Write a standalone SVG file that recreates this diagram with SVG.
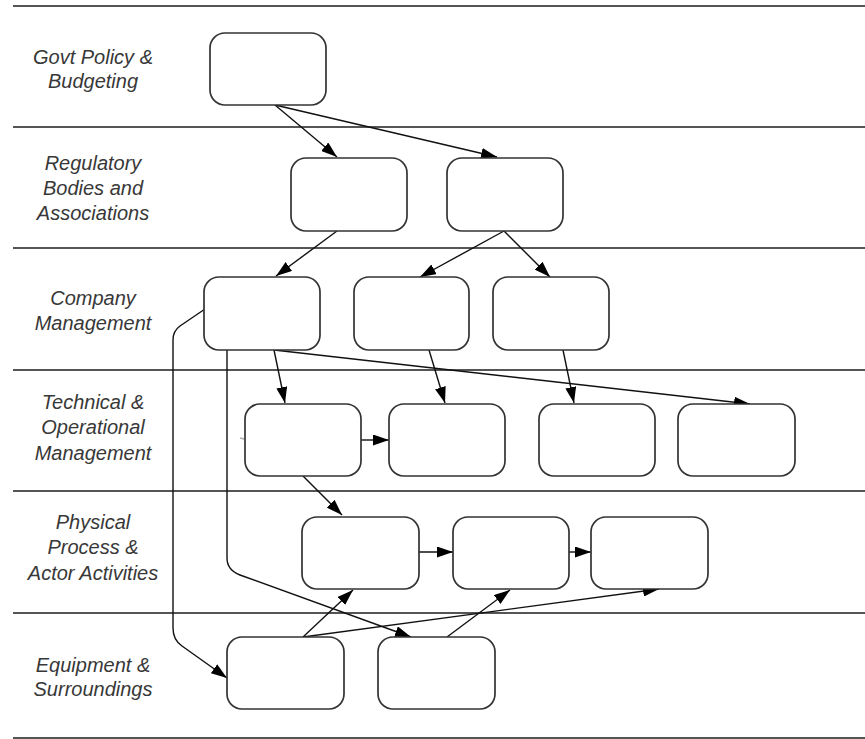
<svg xmlns="http://www.w3.org/2000/svg" width="865" height="739" viewBox="0 0 865 739">
  <style>
    .lane { stroke: #555; stroke-width: 2; }
    .node { fill: #fff; stroke: #333; stroke-width: 1.7; }
    .edge { fill: none; stroke: #111; stroke-width: 1.4; marker-end: url(#arrow); }
    .label { font-family: "Liberation Sans", Arial, sans-serif; font-style: italic; font-size: 20px; fill: #383838; text-anchor: middle; }
  </style>
  <defs>
    <marker id="arrow" viewBox="0 0 16 11" refX="16" refY="5.5" markerWidth="16" markerHeight="11" markerUnits="userSpaceOnUse" orient="auto">
      <path d="M0,0 L16,5.5 L0,11 z" fill="#000"/>
    </marker>
  </defs>
  <rect width="865" height="739" fill="#fff"/>

  <!-- swimlane separators -->
  <g id="lanes">
    <line class="lane" x1="13" y1="6" x2="865" y2="6"/>
    <line class="lane" x1="13" y1="127" x2="865" y2="127"/>
    <line class="lane" x1="13" y1="248" x2="865" y2="248"/>
    <line class="lane" x1="13" y1="370" x2="865" y2="370"/>
    <line class="lane" x1="13" y1="491" x2="865" y2="491"/>
    <line class="lane" x1="13" y1="613" x2="865" y2="613"/>
    <line class="lane" x1="13" y1="738" x2="865" y2="738"/>
  </g>

  <!-- lane titles -->
  <g id="lane-labels" class="label">
    <text class="label" x="93" y="64">Govt Policy &amp;</text>
    <text class="label" x="93" y="88">Budgeting</text>
    <text class="label" x="93" y="170">Regulatory</text>
    <text class="label" x="93" y="195">Bodies and</text>
    <text class="label" x="93" y="220">Associations</text>
    <text class="label" x="93" y="305">Company</text>
    <text class="label" x="93" y="330">Management</text>
    <text class="label" x="93" y="409">Technical &amp;</text>
    <text class="label" x="93" y="434">Operational</text>
    <text class="label" x="93" y="460">Management</text>
    <text class="label" x="93" y="529">Physical</text>
    <text class="label" x="93" y="554">Process &amp;</text>
    <text class="label" x="93" y="580">Actor Activities</text>
    <text class="label" x="93" y="672">Equipment &amp;</text>
    <text class="label" x="93" y="696">Surroundings</text>
  </g>

  <!-- connectors -->
  <g id="connectors">
    <line class="edge" x1="275" y1="105" x2="337" y2="157"/>
    <line class="edge" x1="275" y1="105" x2="497" y2="157"/>
    <line class="edge" x1="337" y1="231" x2="276" y2="276"/>
    <line class="edge" x1="504" y1="231" x2="420" y2="277"/>
    <line class="edge" x1="504" y1="231" x2="550" y2="277"/>
    <line class="edge" x1="274" y1="350" x2="285" y2="403"/>
    <line class="edge" x1="429" y1="350" x2="445" y2="403"/>
    <line class="edge" x1="563" y1="350" x2="574" y2="403"/>
    <line class="edge" x1="274" y1="350" x2="750" y2="404"/>
    <line class="edge" x1="361" y1="440" x2="389" y2="440"/>
    <line class="edge" x1="303" y1="476" x2="342" y2="515"/>
    <line class="edge" x1="418" y1="552" x2="453" y2="552"/>
    <line class="edge" x1="569" y1="552" x2="591" y2="552"/>
    <path class="edge" d="M205,309 L180,326 Q173,331 173,340 L173,628 Q173,640 182,646 L227,678"/>
    <path class="edge" d="M227,350 L227,558 Q227,570 240,575 L411,637"/>
    <line class="edge" x1="303" y1="637" x2="353" y2="590"/>
    <line class="edge" x1="303" y1="637" x2="659" y2="589"/>
    <line class="edge" x1="447" y1="637" x2="510" y2="590"/>
    <line x1="240" y1="438" x2="244" y2="439" stroke="#aaa" stroke-width="1.5"/>
  </g>

  <!-- nodes -->
  <g id="govt-1"><rect class="node" x="210" y="33" width="116" height="72" rx="15"/></g>
  <g id="reg-1"><rect class="node" x="291" y="158" width="116" height="73" rx="15"/></g>
  <g id="reg-2"><rect class="node" x="447" y="158" width="116" height="73" rx="15"/></g>
  <g id="company-1"><rect class="node" x="204" y="277" width="116" height="73" rx="15"/></g>
  <g id="company-2"><rect class="node" x="354" y="277" width="115" height="73" rx="15"/></g>
  <g id="company-3"><rect class="node" x="493" y="277" width="116" height="73" rx="15"/></g>
  <g id="tech-1"><rect class="node" x="245" y="404" width="116" height="72" rx="15"/></g>
  <g id="tech-2"><rect class="node" x="389" y="404" width="116" height="72" rx="15"/></g>
  <g id="tech-3"><rect class="node" x="539" y="404" width="116" height="72" rx="15"/></g>
  <g id="tech-4"><rect class="node" x="678" y="404" width="117" height="72" rx="15"/></g>
  <g id="phys-1"><rect class="node" x="302" y="517" width="117" height="72" rx="15"/></g>
  <g id="phys-2"><rect class="node" x="453" y="517" width="116" height="72" rx="15"/></g>
  <g id="phys-3"><rect class="node" x="591" y="517" width="117" height="72" rx="15"/></g>
  <g id="equip-1"><rect class="node" x="227" y="637" width="117" height="72" rx="15"/></g>
  <g id="equip-2"><rect class="node" x="378" y="637" width="117" height="72" rx="15"/></g>
</svg>
